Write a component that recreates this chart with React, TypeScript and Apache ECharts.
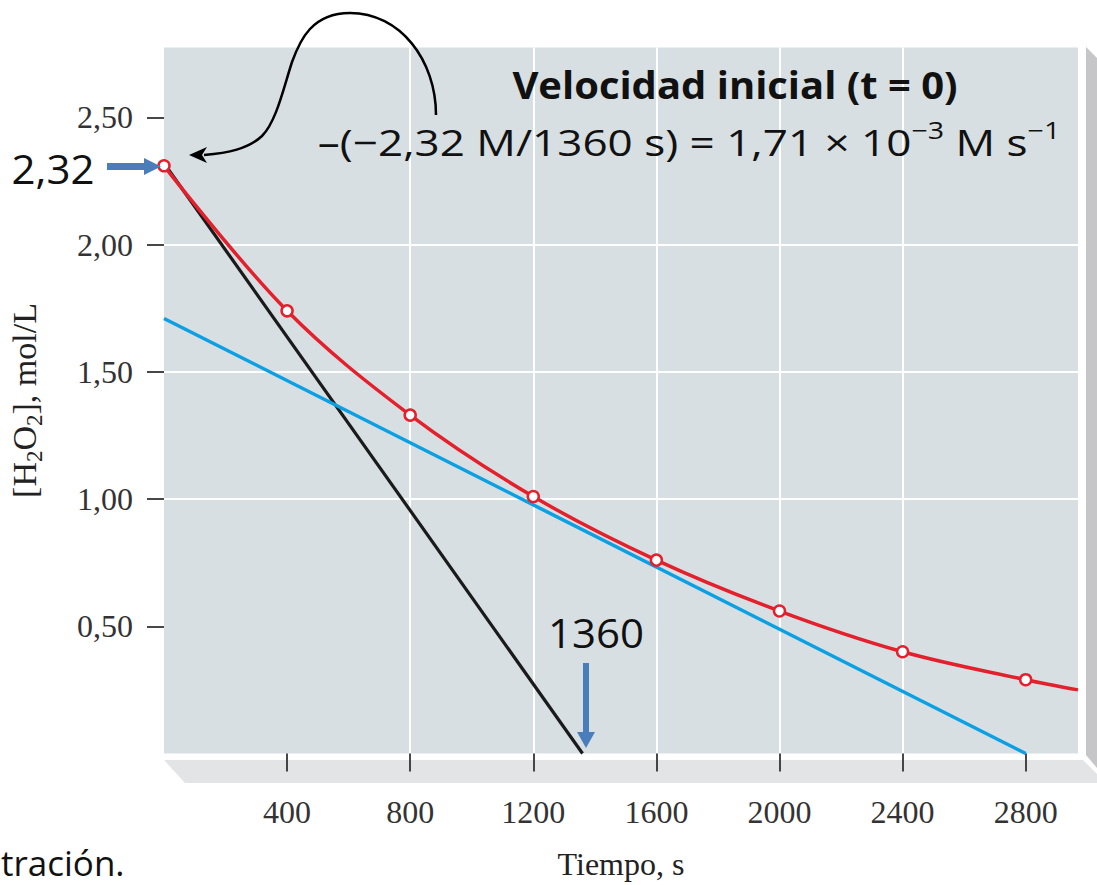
import React, { useEffect, useRef } from "react";
import * as echarts from "echarts";

// ---- data ----
const times = [0, 400, 800, 1200, 1600, 2000, 2400, 2800];
const h2o2 = [2.31, 1.74, 1.33, 1.01, 0.76, 0.56, 0.4, 0.29];
const curveEnd = [2970, 0.25];
const initialTangent = [
  [0, 2.32],
  [1360, 0],
];
const laterTangent = [
  [0, 1.71],
  [2800, 0],
];
const timeTicks = [400, 800, 1200, 1600, 2000, 2400, 2800];
const concTicks = [0.5, 1.0, 1.5, 2.0, 2.5];

const SERIF = '"Liberation Serif", "Times New Roman", serif';
const SANS = '"Open Sans", "Noto Sans", sans-serif';

export default function App() {
  const ref = useRef<HTMLDivElement>(null);

  useEffect(() => {
    if (!ref.current) return;
    echarts.graphic.registerShape(
      "curvedArrow",
      echarts.graphic.extendPath(
        "M 436 115 C 436 60 400 13 350 13 C 312 13 300 40 292 62 C 283 90 276 122 262 136 C 248 149 228 153 204 155",
        {}
      )
    );
    const chart = echarts.init(ref.current, null, { renderer: "svg" });

    const redData: any[] = times.map((t, i) => [t, h2o2[i]]);
    redData.push({ value: curveEnd, symbol: "none" });

    const option: any = {
      animation: false,
      backgroundColor: "#ffffff",
      grid: {
        left: 164,
        top: 47.5,
        width: 914,
        height: 706,
        containLabel: false,
        outerBoundsMode: "none",
        show: true,
        backgroundColor: "#d7dfe2",
        borderWidth: 0,
      },
      xAxis: {
        type: "value",
        min: 0,
        max: 2970,
        interval: 400,
        offset: 18.5,
        axisLine: { show: false },
        axisTick: {
          show: true,
          length: 18,
          customValues: timeTicks,
          lineStyle: { color: "#333", width: 1.8 },
        },
        axisLabel: {
          customValues: timeTicks,
          formatter: (v: number) => String(v),
          fontFamily: SERIF,
          fontSize: 32,
          color: "#333",
          margin: 24,
        },
        splitLine: {
          show: true,
          showMinLine: false,
          showMaxLine: false,
          lineStyle: { color: "#ffffff", width: 2 },
        },
        name: "Tiempo, s",
        nameLocation: "middle",
        nameGap: 76,
        nameTextStyle: { fontFamily: SERIF, fontSize: 32, color: "#222" },
      },
      yAxis: {
        type: "value",
        min: 0,
        max: 2.775,
        interval: 0.5,
        axisLine: { show: false },
        axisTick: {
          show: true,
          length: 17,
          customValues: concTicks,
          lineStyle: { color: "#333", width: 1.8 },
        },
        axisLabel: {
          customValues: concTicks,
          formatter: (v: number) => v.toFixed(2).replace(".", ","),
          fontFamily: SERIF,
          fontSize: 32,
          color: "#333",
          margin: 31,
        },
        splitLine: {
          show: true,
          showMinLine: false,
          showMaxLine: false,
          lineStyle: { color: "#ffffff", width: 2 },
        },
        name: "[H{sub|2}O{sub|2}], mol/L",
        nameLocation: "middle",
        nameGap: 118,
        nameTextStyle: {
          fontFamily: SERIF,
          fontSize: 34,
          color: "#222",
          lineHeight: 44,
          rich: {
            sub: {
              fontFamily: SERIF,
              fontSize: 23,
              color: "#222",
              lineHeight: 22,
              verticalAlign: "bottom",
            },
          },
        },
      },
      series: [
        {
          type: "line",
          data: initialTangent,
          showSymbol: false,
          symbol: "none",
          lineStyle: { color: "#1a1a1a", width: 3.2 },
          z: 2,
        },
        {
          type: "line",
          data: laterTangent,
          showSymbol: false,
          symbol: "none",
          lineStyle: { color: "#0b9fe3", width: 3.5 },
          z: 3,
        },
        {
          type: "line",
          data: redData,
          smooth: 0.35,
          symbol: "circle",
          symbolSize: 11,
          itemStyle: { color: "#ffffff", borderColor: "#e3202c", borderWidth: 2.5 },
          lineStyle: { color: "#e3202c", width: 3.5 },
          z: 4,
        },
      ],
      graphic: [
        // 3D ledge under the plot
        {
          type: "polygon",
          z: -1,
          shape: {
            points: [
              [164, 760],
              [1083, 760],
              [1097, 774],
              [1097, 783],
              [185, 783],
            ],
          },
          style: { fill: "#e3e4e6" },
        },
        // right wall
        {
          type: "polygon",
          z: -1,
          shape: {
            points: [
              [1086, 47],
              [1097, 58],
              [1097, 768],
              [1086, 755],
            ],
          },
          style: { fill: "#c6c6c8" },
        },
        // annotation texts
        {
          type: "text",
          z: 10,
          x: 735,
          y: 85,
          scaleX: 1.08,
          style: {
            text: "Velocidad inicial (t = 0)",
            x: 0,
            y: 0,
            textAlign: "center",
            textVerticalAlign: "middle",
            font: `bold 37px ${SANS}`,
            fill: "#111",
          },
        },
        {
          type: "text",
          z: 10,
          x: 689,
          y: 142,
          scaleX: 1.19,
          style: {
            text: "\u2013(\u22122,32 M/1360 s) = 1,71 \u00d7 10{sup|\u22123} M s{sup|\u22121}",
            x: 0,
            y: 0,
            align: "center",
            verticalAlign: "middle",
            fontFamily: SANS,
            fontSize: 37,
            lineHeight: 48,
            fill: "#111",
            rich: {
              sup: {
                fontFamily: SANS,
                fontSize: 24,
                lineHeight: 24,
                verticalAlign: "top",
                fill: "#111",
              },
            },
          },
        },
        {
          type: "text",
          z: 10,
          x: 53,
          y: 168,
          scaleX: 1.05,
          style: {
            text: "2,32",
            x: 0,
            y: 0,
            textAlign: "center",
            textVerticalAlign: "middle",
            font: `40px ${SANS}`,
            fill: "#111",
          },
        },
        {
          type: "text",
          z: 10,
          x: 596,
          y: 632,
          scaleX: 1.05,
          style: {
            text: "1360",
            x: 0,
            y: 0,
            textAlign: "center",
            textVerticalAlign: "middle",
            font: `40px ${SANS}`,
            fill: "#111",
          },
        },
        {
          type: "text",
          z: 10,
          style: {
            text: "traci\u00f3n.",
            x: 1,
            y: 862,
            textAlign: "left",
            textVerticalAlign: "middle",
            font: `35px ${SANS}`,
            fill: "#111",
          },
        },
        // blue arrows
        {
          type: "rect",
          z: 10,
          shape: { x: 107, y: 163, width: 39, height: 7 },
          style: { fill: "#4a7ebb" },
        },
        {
          type: "polygon",
          z: 10,
          shape: {
            points: [
              [144, 158],
              [161, 166.5],
              [144, 175],
            ],
          },
          style: { fill: "#4a7ebb" },
        },
        {
          type: "rect",
          z: 10,
          shape: { x: 583, y: 663, width: 6, height: 70 },
          style: { fill: "#4a7ebb" },
        },
        {
          type: "polygon",
          z: 10,
          shape: {
            points: [
              [577, 732],
              [595, 732],
              [586, 748],
            ],
          },
          style: { fill: "#4a7ebb" },
        },
        // curved black arrow
        {
          type: "curvedArrow",
          z: 10,
          x: 0,
          y: 0,
          style: { fill: "none", stroke: "#000", lineWidth: 2.5 },
        },
        {
          type: "polygon",
          z: 10,
          shape: {
            points: [
              [189, 155],
              [207, 147],
              [202, 155],
              [207, 163],
            ],
          },
          style: { fill: "#000" },
        },
      ],
    };

    chart.setOption(option);
    return () => chart.dispose();
  }, []);

  return (
    <div
      ref={ref}
      style={{ position: "fixed", left: 0, top: 0, width: 1097, height: 885 }}
    />
  );
}
